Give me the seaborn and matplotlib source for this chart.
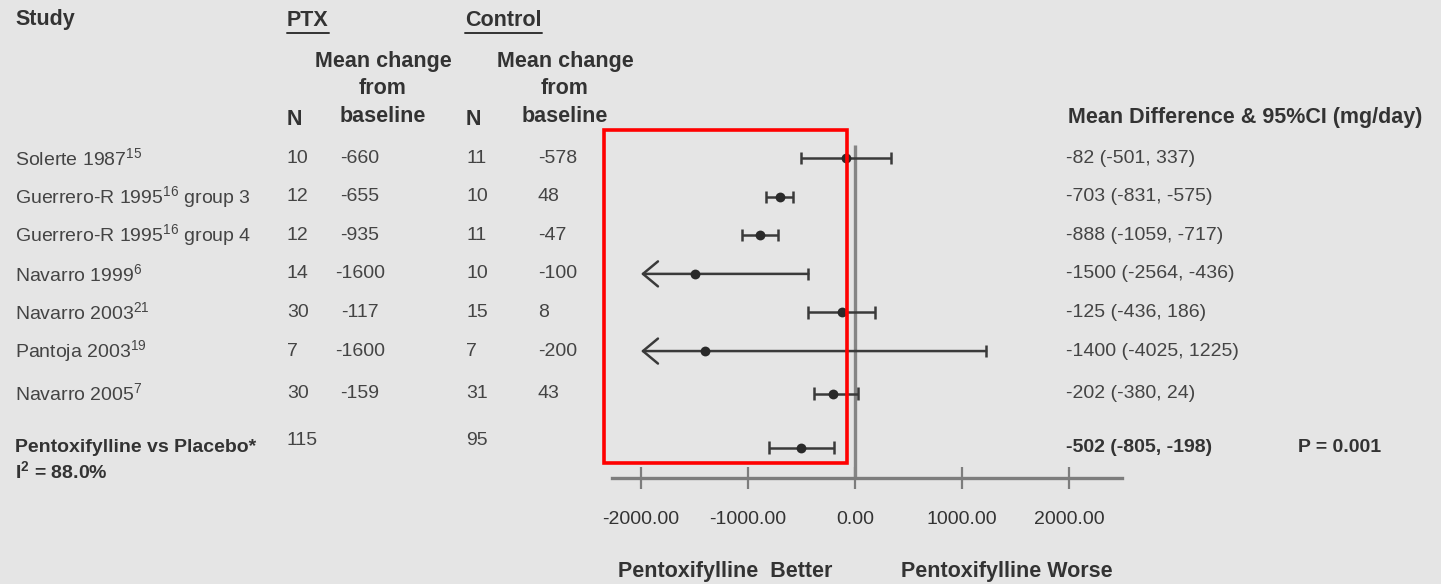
import matplotlib
matplotlib.use("Agg")
import matplotlib.pyplot as plt
import matplotlib.transforms as mtransforms
from matplotlib.patches import Rectangle
from matplotlib.lines import Line2D
from matplotlib.ticker import FormatStrFormatter
import seaborn as sns
import pandas as pd

# ---------------- data ----------------
studies = ["Solerte 1987$^{15}$", "Guerrero-R 1995$^{16}$ group 3", "Guerrero-R 1995$^{16}$ group 4",
           "Navarro 1999$^{6}$", "Navarro 2003$^{21}$", "Pantoja 2003$^{19}$", "Navarro 2005$^{7}$"]
n_ptx = [10, 12, 12, 14, 30, 7, 30]
mean_ptx = [-660, -655, -935, -1600, -117, -1600, -159]
n_ctl = [11, 10, 11, 10, 15, 7, 31]
mean_ctl = [-578, 48, -47, -100, 8, -200, 43]
md = [-82, -703, -888, -1500, -125, -1400, -202]
ci_lo = [-501, -831, -1059, -2564, -436, -4025, -380]
ci_hi = [337, -575, -717, -436, 186, 1225, 24]

pooled_label = "Pentoxifylline vs Placebo*"
pooled_i2 = "I$^{2}$ = 88.0%"
pooled_n_ptx = 115
pooled_n_ctl = 95
pooled_md = -502
pooled_lo = -805
pooled_hi = -198
pooled_p = "P = 0.001"

xticks = [-2000, -1000, 0, 1000, 2000]

# ---------------- style ----------------
BG = "#e5e5e5"
TXT = "#444444"
BOLD = "#333333"
LINE = "#3a3a3a"
AXC = "#7d7d7d"

sns.set_theme(style="white", rc={"axes.facecolor": BG, "figure.facecolor": BG,
                                 "xtick.bottom": True})
plt.rcParams["font.family"] = ["Liberation Sans", "DejaVu Sans"]
plt.rcParams["mathtext.default"] = "regular"
plt.rcParams["axes.unicode_minus"] = False

W, H = 1441, 584
fig = plt.figure(figsize=(W / 100, H / 100), dpi=100)
fig.patch.set_facecolor(BG)

def fx(px):
    return px / W

def fy(py):
    return 1 - py / H

ax = fig.add_axes([fx(612), fy(478), (1122 - 612) / W, (478 - 140) / H])
ax.set_facecolor(BG)

row_y = [0, 1, 2, 3, 4, 5, 6.1]
pooled_y = 7.5
ax.set_xlim(-2271, 2495)
ax.set_ylim(8.29, -0.47)

df = pd.DataFrame({"md": md + [pooled_md], "y": row_y + [pooled_y],
                   "lo": ci_lo + [pooled_lo], "hi": ci_hi + [pooled_hi]})

clip = min(xticks)
cap = 0.16
for _, r in df.iterrows():
    y = r["y"]
    if r["lo"] < clip:
        ax.annotate("", xy=(clip, y), xytext=(r["hi"], y),
                    arrowprops=dict(arrowstyle="->,head_length=0.9,head_width=0.75",
                                    color=LINE, lw=1.8, shrinkA=0, shrinkB=0), zorder=3)
        ax.vlines(r["hi"], y - cap, y + cap, color=LINE, lw=1.8, zorder=3)
    else:
        ax.hlines(y, r["lo"], r["hi"], color=LINE, lw=1.8, zorder=3)
        ax.vlines([r["lo"], r["hi"]], y - cap, y + cap, color=LINE, lw=1.8, zorder=3)

sns.scatterplot(data=df, x="md", y="y", ax=ax, color="#2a2a2a", s=50,
                edgecolor="#2a2a2a", linewidth=0, zorder=4, legend=False)

# zero line
ax.plot([0, 0], [-0.34, 8.29], color="#858585", lw=2.4, zorder=2, solid_capstyle="butt")

# axis styling
for s in ["top", "left", "right"]:
    ax.spines[s].set_visible(False)
ax.spines["bottom"].set_color(AXC)
ax.spines["bottom"].set_linewidth(2.4)
ax.set_yticks([])
ax.set_xticks(xticks)
ax.xaxis.set_major_formatter(FormatStrFormatter("%.2f"))
ax.tick_params(axis="x", bottom=True, direction="inout", length=16, width=1.6, color=AXC,
               pad=16, labelsize=14, labelcolor=BOLD)
ax.set_xlabel("")
ax.set_ylabel("")

# ---------------- table text ----------------
tr = mtransforms.blended_transform_factory(fig.transFigure, ax.transData)
fs = 14
for i in range(len(studies)):
    y = row_y[i]
    ax.text(fx(15), y, studies[i], transform=tr, ha="left", va="center", fontsize=fs, color=TXT, clip_on=False)
    ax.text(fx(287), y, str(n_ptx[i]), transform=tr, ha="left", va="center", fontsize=fs, color=TXT, clip_on=False)
    ax.text(fx(360), y, str(mean_ptx[i]), transform=tr, ha="center", va="center", fontsize=fs, color=TXT, clip_on=False)
    ax.text(fx(466), y, str(n_ctl[i]), transform=tr, ha="left", va="center", fontsize=fs, color=TXT, clip_on=False)
    ax.text(fx(538), y, str(mean_ctl[i]), transform=tr, ha="left", va="center", fontsize=fs, color=TXT, clip_on=False)
    ax.text(fx(1066), y, f"{md[i]} ({ci_lo[i]}, {ci_hi[i]})", transform=tr, ha="left", va="center",
            fontsize=fs, color=TXT, clip_on=False)

# pooled row
ax.text(fx(15), pooled_y, pooled_label, transform=tr, ha="left", va="center", fontsize=fs,
        fontweight="bold", color=BOLD, clip_on=False)
ax.text(fx(15), pooled_y + 0.6, pooled_i2, transform=tr, ha="left", va="center", fontsize=fs,
        fontweight="bold", color=BOLD, clip_on=False)
ax.text(fx(287), pooled_y - 0.18, str(pooled_n_ptx), transform=tr, ha="left", va="center", fontsize=fs,
        color=TXT, clip_on=False)
ax.text(fx(466), pooled_y - 0.18, str(pooled_n_ctl), transform=tr, ha="left", va="center", fontsize=fs,
        color=TXT, clip_on=False)
ax.text(fx(1066), pooled_y, f"{pooled_md} ({pooled_lo}, {pooled_hi})", transform=tr, ha="left",
        va="center", fontsize=fs, fontweight="bold", color=BOLD, clip_on=False)
ax.text(fx(1298), pooled_y, pooled_p, transform=tr, ha="left", va="center", fontsize=fs,
        fontweight="bold", color=BOLD, clip_on=False)

# headers
hfs = 15.5
fig.text(fx(15), fy(20), "Study", ha="left", va="center", fontsize=hfs, fontweight="bold", color=BOLD)
t_ptx = fig.text(fx(287), fy(21), "PTX", ha="left", va="center", fontsize=hfs, fontweight="bold", color=BOLD)
t_ctl = fig.text(fx(465), fy(21), "Control", ha="left", va="center", fontsize=hfs, fontweight="bold", color=BOLD)
for xc in (383, 565):
    fig.text(fx(xc), fy(89), "Mean change\nfrom\nbaseline", ha="center", va="center", fontsize=hfs,
             fontweight="bold", color=BOLD, multialignment="center", linespacing=1.38)
fig.text(fx(287), fy(120), "N", ha="left", va="center", fontsize=hfs, fontweight="bold", color=BOLD)
fig.text(fx(466), fy(120), "N", ha="left", va="center", fontsize=hfs, fontweight="bold", color=BOLD)
fig.text(fx(1068), fy(117), "Mean Difference & 95%CI (mg/day)", ha="left", va="center", fontsize=hfs,
         fontweight="bold", color=BOLD)

fig.text(fx(725), fy(572), "Pentoxifylline  Better", ha="center", va="center", fontsize=hfs,
         fontweight="bold", color=BOLD)
fig.text(fx(1007), fy(572), "Pentoxifylline Worse", ha="center", va="center", fontsize=hfs,
         fontweight="bold", color=BOLD)

# underline headers
fig.canvas.draw()
renderer = fig.canvas.get_renderer()
for t in (t_ptx, t_ctl):
    bb = t.get_window_extent(renderer)
    x0, x1 = bb.x0 / W, bb.x1 / W
    yline = fy(33)
    fig.add_artist(Line2D([x0, x1], [yline, yline], transform=fig.transFigure, color=BOLD, lw=1.4))

# red highlight box
fig.add_artist(Rectangle((fx(604), fy(463)), (847 - 604) / W, (463 - 130) / H, transform=fig.transFigure,
                         fill=False, edgecolor="#ff0000", lw=2.6, zorder=10))

fig.savefig("out.png", dpi=100, facecolor=BG)
